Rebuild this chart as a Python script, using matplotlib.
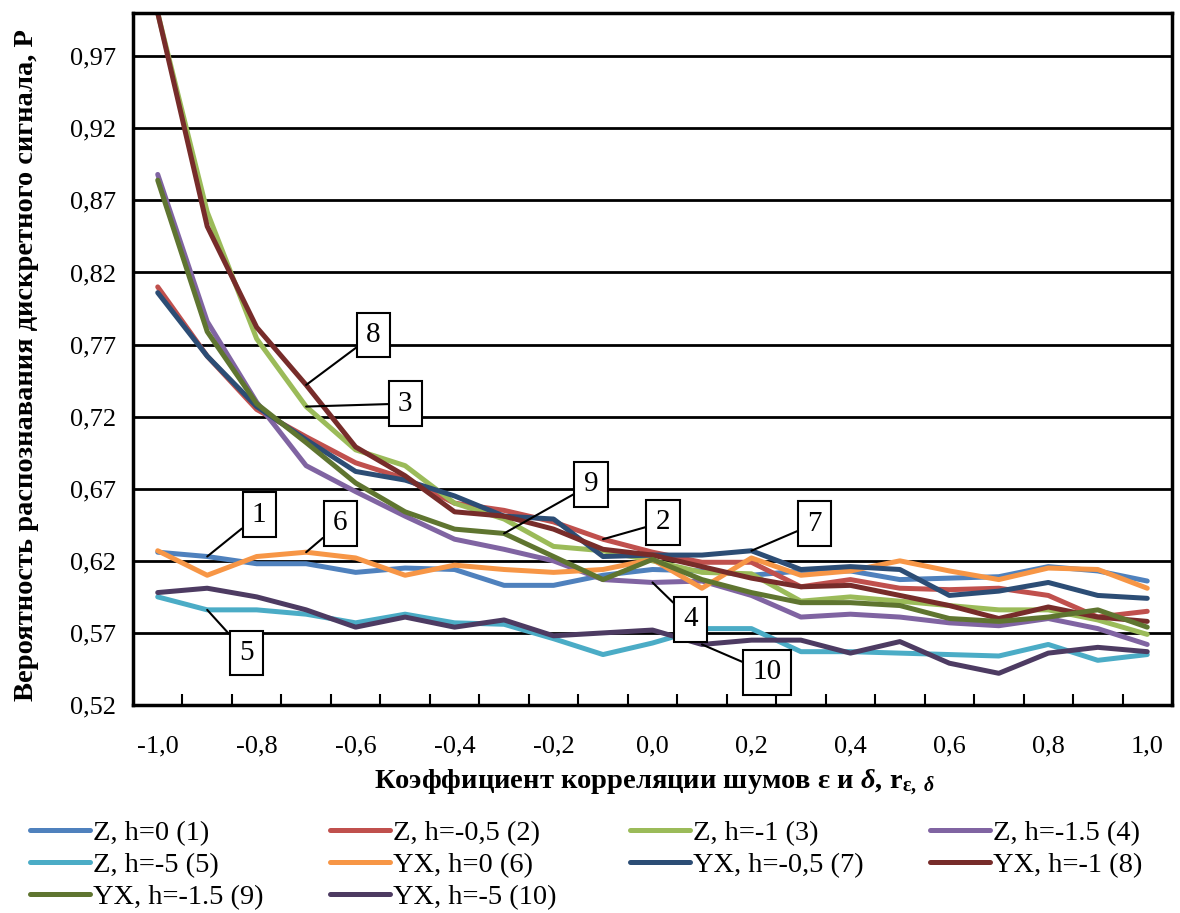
import numpy as np
import matplotlib
matplotlib.use('Agg')
import matplotlib.pyplot as plt

plt.rcParams['font.family'] = 'Liberation Serif'
plt.rcParams['mathtext.fontset'] = 'custom'
plt.rcParams['mathtext.rm'] = 'Liberation Serif:bold'
plt.rcParams['mathtext.it'] = 'Liberation Serif:italic:bold'
plt.rcParams['mathtext.bf'] = 'Liberation Serif:bold'

# correlation coefficient r (categories)
r = [-1.0, -0.9, -0.8, -0.7, -0.6, -0.5, -0.4, -0.3, -0.2, -0.1, 0.0,
     0.1, 0.2, 0.3, 0.4, 0.5, 0.6, 0.7, 0.8, 0.9, 1.0]

z_h0 = [0.626, 0.623, 0.618, 0.618, 0.612, 0.615, 0.614, 0.603, 0.603, 0.610, 0.614,
        0.613, 0.610, 0.613, 0.613, 0.607, 0.608, 0.609, 0.616, 0.613, 0.606]
z_h05 = [0.810, 0.762, 0.725, 0.706, 0.688, 0.677, 0.660, 0.655, 0.647, 0.635, 0.626,
         0.619, 0.619, 0.602, 0.607, 0.601, 0.600, 0.601, 0.596, 0.581, 0.585]
z_h1 = [1.0, 0.862, 0.774, 0.727, 0.697, 0.686, 0.660, 0.649, 0.630, 0.627, 0.620,
        0.612, 0.611, 0.592, 0.595, 0.592, 0.589, 0.586, 0.586, 0.579, 0.569]
z_h15 = [0.888, 0.786, 0.730, 0.686, 0.668, 0.651, 0.635, 0.628, 0.620, 0.607, 0.605,
         0.606, 0.596, 0.581, 0.583, 0.581, 0.577, 0.575, 0.580, 0.573, 0.562]
z_h5 = [0.595, 0.586, 0.586, 0.583, 0.577, 0.583, 0.577, 0.576, 0.566, 0.555, 0.563,
        0.573, 0.573, 0.557, 0.557, 0.556, 0.555, 0.554, 0.562, 0.551, 0.555]
yx_h0 = [0.627, 0.610, 0.623, 0.626, 0.622, 0.610, 0.617, 0.614, 0.612, 0.614, 0.621,
         0.601, 0.622, 0.610, 0.613, 0.620, 0.613, 0.607, 0.615, 0.614, 0.601]
yx_h05 = [0.806, 0.762, 0.727, 0.704, 0.682, 0.676, 0.665, 0.651, 0.649, 0.623, 0.624,
          0.624, 0.627, 0.614, 0.616, 0.614, 0.596, 0.599, 0.605, 0.596, 0.594]
yx_h1 = [1.0, 0.852, 0.782, 0.742, 0.699, 0.679, 0.654, 0.651, 0.642, 0.628, 0.624,
         0.616, 0.608, 0.602, 0.603, 0.596, 0.589, 0.580, 0.588, 0.581, 0.578]
yx_h15 = [0.884, 0.779, 0.729, 0.702, 0.674, 0.654, 0.642, 0.639, 0.623, 0.607, 0.621,
          0.607, 0.598, 0.591, 0.591, 0.589, 0.580, 0.578, 0.581, 0.586, 0.574]
yx_h5 = [0.598, 0.601, 0.595, 0.586, 0.574, 0.581, 0.574, 0.579, 0.568, 0.570, 0.572,
         0.562, 0.565, 0.565, 0.556, 0.564, 0.549, 0.542, 0.556, 0.560, 0.557]

series = [z_h0, z_h05, z_h1, z_h15, z_h5, yx_h0, yx_h05, yx_h1, yx_h15, yx_h5]
labels = ['Z, h=0 (1)', 'Z, h=-0,5 (2)', 'Z, h=-1 (3)', 'Z, h=-1.5 (4)',
          'Z, h=-5 (5)', 'YX, h=0 (6)', 'YX, h=-0,5 (7)', 'YX, h=-1 (8)',
          'YX, h=-1.5 (9)', 'YX, h=-5 (10)']
colors = ['#4F81BD', '#C0504D', '#9BBB59', '#8064A2', '#4BACC6',
          '#F79646', '#2C4D75', '#772C2A', '#5F7530', '#4D3B62']

# callout: (series number, point index, dx px, dy px)
callouts = [(1, 1, 52, 42), (2, 9, 60, 17), (3, 3, 99, 3), (4, 10, 38, -37),
            (5, 1, 39, -43), (6, 3, 34, 29), (7, 12, 63, 27), (8, 3, 67, 50),
            (9, 7, 87, 49), (10, 11, 65, -28)]

yticks = np.arange(10) * 0.05 + 0.52

fig = plt.figure(figsize=(11.8, 9.13), dpi=100)
ax = fig.add_axes([0.1127, 0.2278, 0.8805, 0.758])

idx = np.arange(len(r))
lines = []
for s, lab, c in zip(series, labels, colors):
    ln, = ax.plot(idx, s, color=c, lw=3.6, label=lab, solid_joinstyle='round',
                  solid_capstyle='round')
    lines.append(ln)

ax.set_xlim(-0.5, len(r) - 0.5)
ax.set_ylim(0.52, 1.0)

ax.set_yticks(yticks)
ax.set_yticklabels([('%.2f' % v).replace('.', ',') for v in yticks], fontsize=19)
ax.tick_params(axis='y', length=0, pad=12)
ax.yaxis.grid(True, color='black', lw=2)
ax.set_axisbelow(True)

ax.set_xticks(idx[::2])
ax.set_xticklabels([('%.1f' % r[i]).replace('.', ',') for i in idx[::2]], fontsize=19)
ax.set_xticks(idx[:-1] + 0.5, minor=True)
ax.tick_params(axis='x', which='major', length=0, pad=22)
ax.tick_params(axis='x', which='minor', direction='in', length=8, width=1.5)

for sp in ax.spines.values():
    sp.set_linewidth(2.5)
    sp.set_color('black')

for num, i, dx, dy in callouts:
    ax.annotate(str(num), xy=(i, series[num - 1][i]), xytext=(dx, dy),
                textcoords='offset pixels', ha='center', va='center', fontsize=21,
                bbox=dict(boxstyle='square,pad=0.32', fc='white', ec='black', lw=1.5),
                arrowprops=dict(arrowstyle='-', color='black', lw=1.5,
                                shrinkA=0, shrinkB=0))

fig.text(655 / 1180, 1 - 783 / 913,
         'Коэффициент корреляции шумов ε и $\\mathit{\\delta}$, r$_{\\mathrm{ε},\\ \\mathit{\\delta}}$',
         ha='center', va='center', fontsize=20.5, fontweight='bold')
fig.text(27 / 1180, 1 - 365 / 913,
         'Вероятность распознавания дискретного сигнала, P',
         ha='center', va='center', rotation=90, fontsize=20.5, fontweight='bold')

# legend, row-wise order, one legend per column
col_x = [30, 330, 630, 930]
for col in range(4):
    hs = lines[col::4]
    fig.legend(handles=hs, labels=[h.get_label() for h in hs],
               loc='upper left', bbox_to_anchor=(col_x[col] / 1180, 1 - 820 / 913),
               frameon=False, fontsize=20.5, handlelength=2.1, handletextpad=0.1,
               labelspacing=0.22, borderpad=0, borderaxespad=0)

fig.savefig('out.png', dpi=100)
